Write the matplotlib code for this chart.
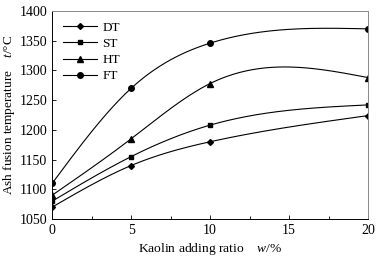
import matplotlib
matplotlib.use("Agg")
import matplotlib.pyplot as plt
import numpy as np

plt.rcParams['font.family'] = ['Liberation Serif', 'DejaVu Serif']
plt.rcParams['mathtext.fontset'] = 'custom'
plt.rcParams['mathtext.rm'] = 'Liberation Serif'
plt.rcParams['mathtext.it'] = 'Liberation Serif:italic'

# data
kaolin = [0, 5, 10, 20]
dt = [1070, 1140, 1180, 1224]
st = [1080, 1155, 1208, 1242]
ht = [1090, 1185, 1278, 1288]
ft = [1110, 1270, 1346, 1370]

series = [("DT", dt, "D", 3.0), ("ST", st, "s", 3.3), ("HT", ht, "^", 4.0), ("FT", ft, "o", 4.0)]


def natural_spline(x, y, xs):
    # plain natural cubic spline, second derivative zero at both ends
    x = np.asarray(x, float)
    y = np.asarray(y, float)
    n = len(x)
    h = np.diff(x)
    A = np.zeros((n, n))
    b = np.zeros(n)
    A[0, 0] = A[-1, -1] = 1
    for i in range(1, n - 1):
        A[i, i - 1] = h[i - 1]
        A[i, i] = 2 * (h[i - 1] + h[i])
        A[i, i + 1] = h[i]
        b[i] = 6 * ((y[i + 1] - y[i]) / h[i] - (y[i] - y[i - 1]) / h[i - 1])
    M = np.linalg.solve(A, b)
    out = np.empty_like(xs)
    for k, t in enumerate(xs):
        i = min(np.searchsorted(x, t, side='right') - 1, n - 2)
        i = max(i, 0)
        a, c = x[i], x[i + 1]
        hi = h[i]
        out[k] = (M[i] * (c - t) ** 3 / (6 * hi) + M[i + 1] * (t - a) ** 3 / (6 * hi)
                  + (y[i] / hi - M[i] * hi / 6) * (c - t)
                  + (y[i + 1] / hi - M[i + 1] * hi / 6) * (t - a))
    return out


fig = plt.figure(figsize=(3.81, 2.57), dpi=100)
ax = fig.add_axes([0.137, 0.148, 0.829, 0.809])

xs = np.linspace(0, 20, 200)
for name, vals, mk, ms in series:
    ax.plot(xs, natural_spline(kaolin, vals, xs), color='black', lw=0.8)
    ax.plot(kaolin, vals, linestyle='none', marker=mk, color='black', markersize=ms)
    # legend proxy
    ax.plot([], [], color='black', lw=0.8, marker=mk, markersize=ms, label=name)

ax.set_xlim(0, 20)
ax.set_ylim(1050, 1400)
ax.set_xticks([0, 5, 10, 15, 20])
ax.set_xticks([2.5, 7.5, 12.5, 17.5], minor=True)
ax.set_yticks(range(1050, 1401, 50))
ax.tick_params(direction='in', labelsize=10, length=3, width=0.6)
ax.tick_params(which='minor', direction='in', length=2, width=0.6)
for s in ['left', 'bottom']:
    ax.spines[s].set_color('black')
    ax.spines[s].set_linewidth(0.7)
for s in ['top', 'right']:
    ax.spines[s].set_color('#888888')
    ax.spines[s].set_linewidth(0.7)

ax.set_xlabel("Kaolin adding ratio    $w$/%", fontsize=9.7, labelpad=3)
ax.set_ylabel("Ash fusion temperature    $t$/\u00b0C", fontsize=9.5)
ax.yaxis.set_label_coords(-0.11, 0.5)

ax.legend(loc='upper left', frameon=False, fontsize=9.5, handlelength=2.6,
          labelspacing=0.3, borderaxespad=0.4, handletextpad=0.4)

fig.savefig("out.png", dpi=100)
